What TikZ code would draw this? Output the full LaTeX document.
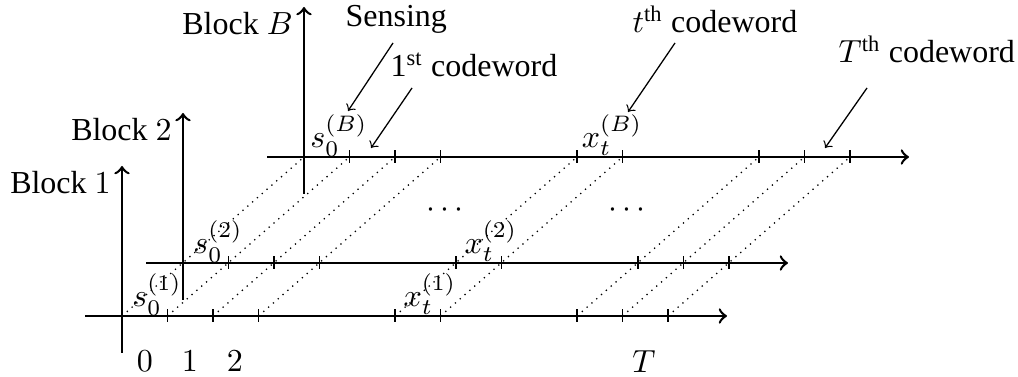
\documentclass[tikz,border=0pt]{standalone}
\usepackage[no-math]{fontspec}
\setmainfont{Liberation Serif}
\begin{document}
\begin{tikzpicture}[x=0.3125pt,y=-0.3125pt,
  axis/.style={line width=0.8pt,->},
  tickmark/.style={line width=0.4pt},
  diag/.style={line width=0.4pt,dash pattern=on 0.4pt off 1.6pt},
  lbl/.style={anchor=base,inner sep=0pt},
  ann/.style={anchor=base west,inner sep=0pt},
  pointer/.style={line width=0.4pt,->}]
\useasboundingbox (0,0) rectangle (1018,377);
% dotted diagonals linking the same slot across blocks
\foreach \k in {0,1,2,3,6,7,10,11,12}
  \draw[diag] (122+\k*45.5,316) -- (304+\k*45.5,157);
% the three block axes
\foreach \nm/\ox/\oy/\b in {1/122/316/1, 2/183/263/2, B/304/157/B} {
  \coordinate (O\nm) at (\ox,\oy);
  \draw[axis] (\ox-37,\oy) -- (\ox+605,\oy);
  \draw[axis] (\ox,\oy+37) -- (\ox,\oy-150);
  \node[anchor=base east] (blk\nm) at (\ox,\oy-122) {Block $\b$};
  \foreach \k in {1,2,3,6,7,10,11,12}
    \draw[tickmark] (\ox+\k*45.5,\oy-6.5) -- (\ox+\k*45.5,\oy+6.5);
  \node[lbl] (s\nm) at (\ox+35,\oy-9) {$s_0^{(\b)}$};
  \node[lbl] (x\nm) at (\ox+308,\oy-9) {$x_t^{(\b)}$};
}
% dots
\node[anchor=base] (dotsA) at (445,218) {$\cdots$};
\node[anchor=base] (dotsB) at (627,218) {$\cdots$};
% slot labels
\node[lbl] (n0) at (145,372) {$0$};
\node[lbl] (n1) at (190,372) {$1$};
\node[lbl] (n2) at (235,372) {$2$};
\node[lbl] (nT) at (644,373) {$T$};
% annotations
\node[ann] (sens) at (345,27) {Sensing};
\node[ann] (first) at (390,77) {1\textsuperscript{st} codeword};
\node[ann] (tth) at (632,33) {$t$\textsuperscript{th} codeword};
\node[ann] (Tth) at (838,63) {$T$\textsuperscript{th} codeword};
\coordinate (sensA) at (393,43);  \coordinate (sensB) at (348,111);
\coordinate (firstA) at (412,88); \coordinate (firstB) at (371,148);
\coordinate (tthA) at (675,43);   \coordinate (tthB) at (628,112);
\coordinate (TthA) at (867,88);   \coordinate (TthB) at (825,148);
\draw[pointer] (sensA) -- (sensB);
\draw[pointer] (firstA) -- (firstB);
\draw[pointer] (tthA) -- (tthB);
\draw[pointer] (TthA) -- (TthB);
\end{tikzpicture}
\end{document}
